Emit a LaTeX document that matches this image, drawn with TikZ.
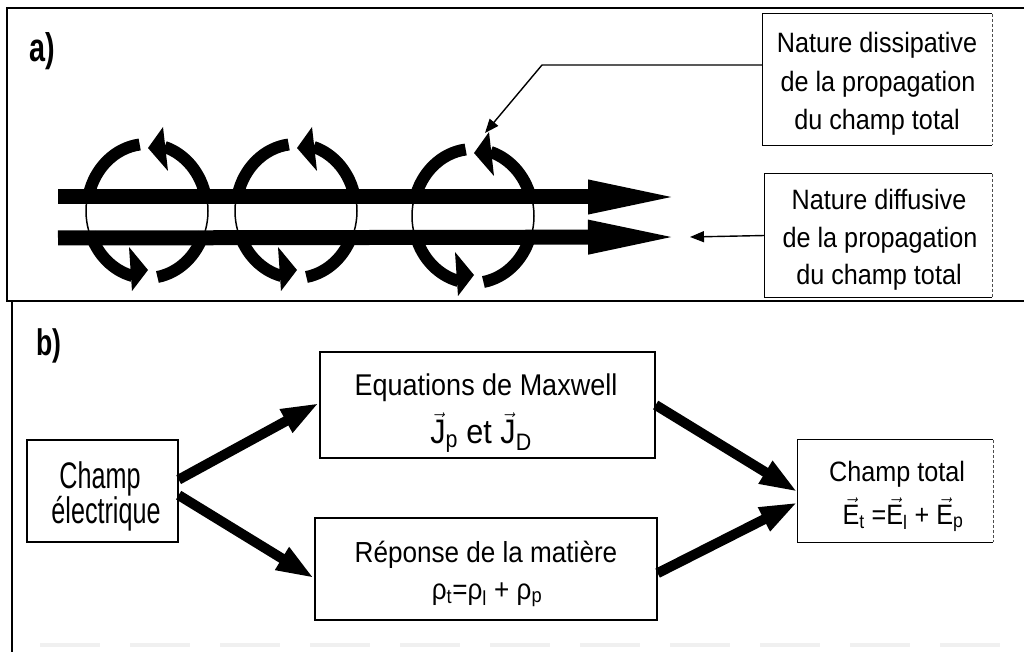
\documentclass[tikz,border=0pt]{standalone}
\usepackage{fontspec}
\setmainfont{Liberation Sans}
\newfontfamily\narA[FakeStretch=0.9]{Liberation Sans}
\newfontfamily\narB[FakeStretch=0.68]{Liberation Sans}
\newfontfamily\narL[FakeStretch=0.72]{Liberation Sans}
\usetikzlibrary{arrows.meta,calc}
\newcommand{\ovJ}{\ensuremath{\vec{\mbox{J}}}}
\newcommand{\ovE}{\ensuremath{\vec{\mbox{E}}}}
\begin{document}
\begin{tikzpicture}[x=1pt,y=-1pt,
  frame/.style={line width=2.6pt},
  box/.style={draw,line width=1.3pt,inner sep=0pt},
  openbox/.style={inner sep=0pt},
  side/.style={line width=1.3pt},
  dotside/.style={line width=1pt,densely dashed,black!70},
  txt/.style={inner sep=0pt,anchor=base},
  ftA/.style={font=\narA\fontsize{28}{34}\selectfont},
  ftB/.style={font=\narB\fontsize{37}{40}\selectfont},
  ftL/.style={font=\narL\bfseries\fontsize{40}{44}\selectfont},
  fat/.style={line width=15pt,-{Triangle[length=95pt,width=30pt]}},
  swirl/.style={line width=12pt},
  swirlhead/.style={fill=black},
  ring/.style={line width=1.5pt},
  callout/.style={line width=1.4pt,-{Triangle[length=14pt,width=11pt]}},
  flow/.style={line width=10pt,-{Triangle[length=38pt,width=24pt]}}]
\useasboundingbox (0,0) rectangle (1028,652);
\fill[white] (0,0) rectangle (1028,652);

% frames
\draw[frame,line join=miter] (1024,8) -- (7,8) -- (7,301) -- (1024,301);
\draw[frame] (12,301) -- (12,652);
\draw[line width=4pt,black!6,dash pattern=on 60pt off 30pt] (40,645) -- (1028,645);

% labels
\node[txt,ftL] (la) at (42,62) {a)};
\node[txt,font=\narL\bfseries\fontsize{37}{40}\selectfont] (lb) at (49,355) {b)};

% ---------- panel a ----------
\coordinate (o1) at (147,211);
\coordinate (o2) at (296,211);
\coordinate (o3) at (473,216);
\foreach \o in {o1,o2,o3}{
  \draw[ring] ($(\o)+(145:61 and 67)$) arc[start angle=145,end angle=215,x radius=61,y radius=67];
  \draw[ring] ($(\o)+(-35:61 and 67)$) arc[start angle=-35,end angle=35,x radius=61,y radius=67];
  % top: blunt arc on the left, arrow arc on the right
  \draw[swirl] ($(\o)+(-166:60 and 67)$) arc[start angle=-166,end angle=-97,x radius=60,y radius=67];
  \draw[swirl] ($(\o)+(-12:60 and 67)$) arc[start angle=-12,end angle=-73,x radius=60,y radius=67];
  \fill[swirlhead] ($(\o)+(1,-63)$) -- ($(\o)+(16,-84)$) -- ($(\o)+(21,-40)$) -- cycle;
  % bottom: arrow arc on the left, blunt arc on the right
  \draw[swirl] ($(\o)+(161:60 and 67)$) arc[start angle=161,end angle=104,x radius=60,y radius=67];
  \fill[swirlhead] ($(\o)+(1,59)$) -- ($(\o)+(-18,36)$) -- ($(\o)+(-15,80)$) -- cycle;
  \draw[swirl] ($(\o)+(80:60 and 67)$) arc[start angle=80,end angle=19,x radius=60,y radius=67];
}
\coordinate (s1a) at (58,197);
\coordinate (s1b) at (683,197);
\coordinate (s2a) at (58,238);
\coordinate (s2b) at (683,237);
\draw[fat] (s1a) -- (s1b);
\draw[fat] (s2a) -- (s2b);

% callout boxes
\node[openbox,minimum width=229pt,minimum height=131pt] (b1) at (877.5,79.5) {};
\draw[side] (b1.north east) -- (b1.north west) -- (b1.south west) -- (b1.south east);
\draw[dotside] (b1.north east) -- (b1.south east);
\node[txt,ftA] (b1a) at (877,53) {Nature dissipative};
\node[txt,ftA] (b1b) at (878,92) {de la propagation};
\node[txt,ftA] (b1c) at (877,130) {du champ total};

\node[openbox,minimum width=227pt,minimum height=123pt] (b2) at (878.5,235.5) {};
\draw[side] (b2.north east) -- (b2.north west) -- (b2.south west) -- (b2.south east);
\draw[dotside] (b2.north east) -- (b2.south east);
\node[txt,ftA] (b2a) at (879,210) {Nature diffusive};
\node[txt,ftA] (b2b) at (880,248) {de la propagation};
\node[txt,ftA] (b2c) at (879,285) {du champ total};

\coordinate (c1) at (542,65);
\coordinate (c1t) at (485,133);
\coordinate (c2t) at (690,237);
\draw[callout] ($(b1.north west)!0.39!(b1.south west)$) -- (c1) -- (c1t);
\draw[callout] (b2.west) -- (c2t);

% ---------- panel b ----------
\node[box,minimum width=151pt,minimum height=102pt] (ce) at (102.5,491) {};
\node[txt,ftB] (ce1) at (100,488) {Champ};
\node[txt,ftB] (ce2) at (106,523) {électrique};

\node[box,minimum width=335pt,minimum height=106pt] (eq) at (487.5,405) {};
\node[txt,font=\narA\fontsize{30}{34}\selectfont] (eq1) at (486,395) {Equations de Maxwell};
\node[txt,font=\narA\fontsize{34}{38}\selectfont] (eq2) at (481,443) {\ovJ\textsubscript{p} et \ovJ\textsubscript{D}};

\node[box,minimum width=342pt,minimum height=102pt] (rep) at (486,569) {};
\node[txt,font=\narA\fontsize{29}{34}\selectfont] (rep1) at (486,562) {Réponse de la matière};
\node[txt,font=\narA\fontsize{29}{34}\selectfont] (rep2) at (487,599) {ρ\textsubscript{t}=ρ\textsubscript{l} + ρ\textsubscript{p}};

\node[openbox,minimum width=195pt,minimum height=102pt] (tot) at (895.5,491) {};
\draw[side] (tot.north east) -- (tot.north west) -- (tot.south west) -- (tot.south east);
\draw[dotside] (tot.north east) -- (tot.south east);
\node[txt,ftA] (tot1) at (897,481) {Champ total};
\node[txt,font=\narA\fontsize{28}{34}\selectfont] (tot2) at (903,524) {\ovE\textsubscript{t} =\ovE\textsubscript{l} + \ovE\textsubscript{p}};

\draw[flow] ($(ce.north east)!0.39!(ce.south east)$) -- ($(eq.north west)!0.48!(eq.south west)$);
\draw[flow] ($(ce.north east)!0.54!(ce.south east)$) -- ($(rep.north west)!0.59!(rep.south west)$);
\draw[flow] ($(eq.north east)!0.5!(eq.south east)$) -- ($(tot.north west)!0.51!(tot.south west)$);
\draw[flow] ($(rep.north east)!0.54!(rep.south east)$) -- ($(tot.north west)!0.61!(tot.south west)$);
\end{tikzpicture}
\end{document}
